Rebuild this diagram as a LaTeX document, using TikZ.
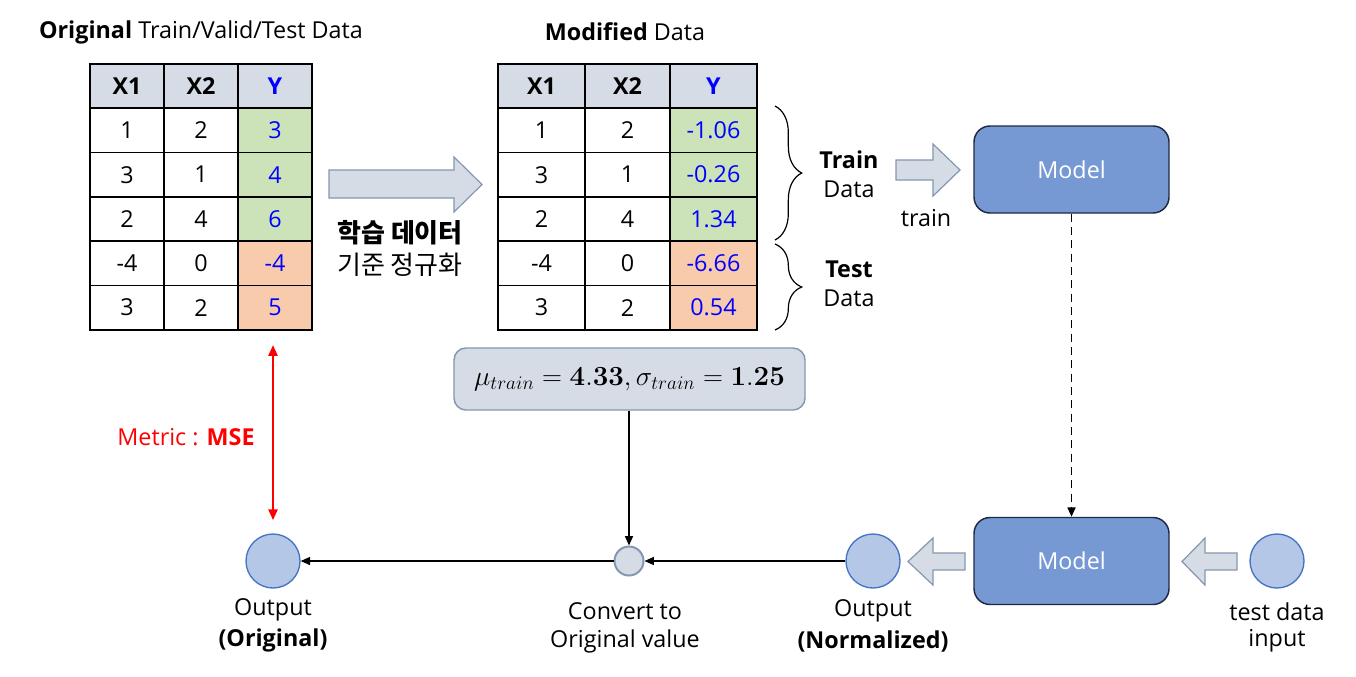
\documentclass[tikz,border=0pt]{standalone}
\usepackage[no-math]{fontspec}
\setmainfont{Open Sans}
\newfontfamily\kr{Noto Sans CJK KR}
\usetikzlibrary{arrows.meta,decorations.pathreplacing,calc}
\definecolor{hdr}{HTML}{D6DCE5}
\definecolor{grn}{HTML}{CCE3BA}
\definecolor{org}{HTML}{F8CBAD}
\definecolor{afill}{HTML}{D6DCE5}
\definecolor{aline}{HTML}{8497B0}
\definecolor{mfill}{HTML}{7699D4}
\definecolor{mline}{HTML}{1E2A44}
\definecolor{cfill}{HTML}{B4C7E7}
\definecolor{cline}{HTML}{4472C4}
\definecolor{yblue}{HTML}{0000FF}
\newcommand{\fs}{\fontsize{17.5}{21}\selectfont}
\begin{document}
\begin{tikzpicture}[x=0.75pt,y=-0.75pt,
  font=\fs,
  cell/.style={draw,line width=1.1pt,inner sep=0pt,minimum height={44.33*0.75pt}},
  hcell/.style={cell,fill=hdr,font=\fs\bfseries},
  wl/.style={minimum width={74*0.75pt}},
  wr/.style={minimum width={#1*0.75pt}},
  ycol/.style={text=yblue},
  blockarrow/.style={draw=aline,fill=afill,line width=0.9pt,line join=miter},
  model/.style={draw=mline,fill=mfill,line width=1.1pt,rounded corners={16*0.75pt},minimum width={195*0.75pt},minimum height={87*0.75pt},text=white},
  circ/.style={circle,draw=cline,fill=cfill,line width=1pt,minimum size={54*0.75pt},inner sep=0pt},
  conv/.style={circle,draw=aline,fill=afill,line width=1.5pt,minimum size={29*0.75pt},inner sep=0pt},
  fbox/.style={draw=aline,fill=afill,line width=1.1pt,rounded corners={12*0.75pt},minimum width={351*0.75pt},minimum height={62*0.75pt}},
  conn/.style={line width=0.9pt,-{Triangle[length=7pt,width=6pt]}},
  brc/.style={decorate,decoration={brace,amplitude=20pt,aspect=0.5},line width=0.9pt},
  krb/.style={font=\kr\fontsize{19.5}{23}\selectfont\bfseries},
  krn/.style={font=\kr\fontsize{19.5}{23}\selectfont}
]
\useasboundingbox (0,0) rectangle (1356,676);

% titles
\node (tl) at (201,32) {\textbf{Original} Train/Valid/Test Data};
\node (tr) at (625,32) {\textbf{Modified} Data};

% left table
\node[hcell,wl] (L01) at (127,86) {X1};
\node[hcell,wl] (L02) at (201,86) {X2};
\node[hcell,wl,ycol] (L03) at (275,86) {Y};
\foreach \r/\a/\b/\y/\f in {1/1/2/3/grn,2/3/1/4/grn,3/2/4/6/grn,4/-4/0/-4/org,5/3/2/5/org}{
  \node[cell,wl] (L\r1) at (127,{86+44.33*\r}) {\a};
  \node[cell,wl] (L\r2) at (201,{86+44.33*\r}) {\b};
  \node[cell,wl,fill=\f,ycol] (L\r3) at (275,{86+44.33*\r}) {\y};
}

% right table
\node[hcell,wr=87] (R01) at (541.5,86) {X1};
\node[hcell,wr=85] (R02) at (627.5,86) {X2};
\node[hcell,wr=87,ycol] (R03) at (713.5,86) {Y};
\foreach \r/\a/\b/\y/\f in {1/1/2/-1.06/grn,2/3/1/-0.26/grn,3/2/4/1.34/grn,4/-4/0/-6.66/org,5/3/2/0.54/org}{
  \node[cell,wr=87] (R\r1) at (541.5,{86+44.33*\r}) {\a};
  \node[cell,wr=85] (R\r2) at (627.5,{86+44.33*\r}) {\b};
  \node[cell,wr=87,fill=\f,ycol] (R\r3) at (713.5,{86+44.33*\r}) {\y};
}

% big arrow
\draw[blockarrow] (329,170) -- (454,170) -- (454,157) -- (482,184.5) -- (454,212) -- (454,198) -- (329,198) -- cycle;
\node[krb] (k1) at (400,233) {학습 데이터};
\node[krn] (k2) at (400,265) {기준 정규화};

% braces
\draw[brc] (775,106) -- (775,240);
\draw[brc] (775,244) -- (775,330);
\node (trn) at (849,160) {\textbf{Train}};
\node (trd) at (849,189) {Data};
\node (tst) at (849,269) {\textbf{Test}};
\node (tsd) at (849,298) {Data};

% train arrow
\draw[blockarrow] (896,160) -- (933,160) -- (933,144) -- (960,170) -- (933,196) -- (933,180) -- (896,180) -- cycle;
\node (trl) at (926,218) {train};

% models
\node[model] (M1) at (1071.5,169.5) {Model};
\node[model] (M2) at (1071.5,561) {Model};
\draw[conn,line width=1.3pt,dash pattern=on 6pt off 4pt] (M1) -- (M2);

% input side
\node[circ] (in) at (1277,561) {};
\node (inl1) at (1277,612) {test data};
\node (inl2) at (1277,641) {input};
\draw[blockarrow] (1237,553) -- (1205,553) -- (1205,538) -- (1182,561.5) -- (1205,585) -- (1205,570) -- (1237,570) -- cycle;

% output normalized
\draw[blockarrow] (965,553) -- (933,553) -- (933,538) -- (908,561.5) -- (933,585) -- (933,570) -- (965,570) -- cycle;
\node[circ] (outn) at (873,561) {};
\node (onl1) at (873,611) {Output};
\node (onl2) at (873,641) {\textbf{(Normalized)}};

% convert
\node[fbox] (fm) at (629.5,379) {\fontsize{20}{24}\selectfont$\mu_{train} = \mathbf{4.33}, \sigma_{train} = \mathbf{1.25}$};
\node[conv] (cv) at (629,561) {};
\node (cvl1) at (625,611) {Convert to};
\node (cvl2) at (625,641) {Original value};
\draw[conn] (fm.south -| cv) -- (cv.north);
\draw[conn] (outn) -- (cv);

% output original
\node[circ] (outo) at (273,561) {};
\node (ool1) at (273,610) {Output};
\node (ool2) at (273,640) {\textbf{(Original)}};
\draw[conn] (cv) -- (outo);

% metric
\draw[red,line width=1.2pt,{Triangle[length=8pt,width=7pt]}-{Triangle[length=8pt,width=7pt]},shorten <=11pt,shorten >=10pt] (L53.south -| outo) -- (outo.north);
\node[text=red] (met) at (186,437) {Metric : \textbf{MSE}};
\end{tikzpicture}
\end{document}
